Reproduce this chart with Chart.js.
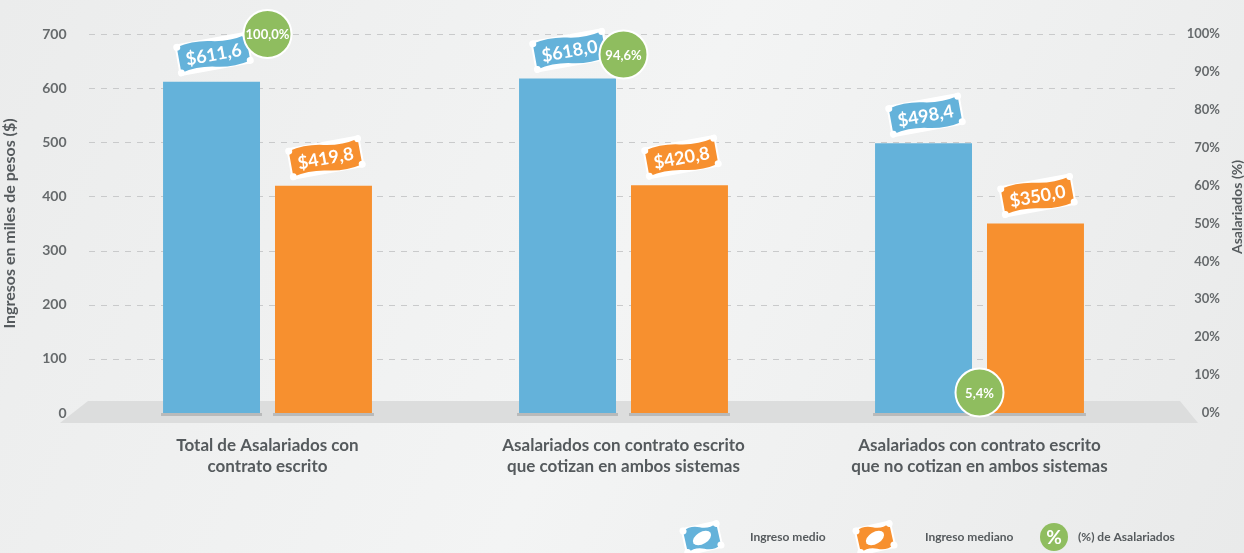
<!DOCTYPE html>
<html>
<head>
<meta charset="utf-8">
<script src="https://cdn.jsdelivr.net/npm/chart.js@4"></script>
<style>
  html, body { margin: 0; padding: 0; background: #eeefef; }
  #wrap { width: 1244px; height: 553px; position: relative; }
</style>
</head>
<body>
<div id="wrap"><canvas id="chart" width="1244" height="553"></canvas></div>
<script>
// ===== Data =====
const categories = [
  ['Total de Asalariados con', 'contrato escrito'],
  ['Asalariados con contrato escrito', 'que cotizan en ambos sistemas'],
  ['Asalariados con contrato escrito', 'que no cotizan en ambos sistemas']
];
const ingresoMedio = [611.6, 618.0, 498.4];
const ingresoMediano = [419.8, 420.8, 350.0];
const pctAsalariados = [100.0, 94.6, 5.4];
const seriesNames = ['Ingreso medio', 'Ingreso mediano', '(%) de Asalariados'];

const BLUE = '#64b2da';
const ORANGE = '#f7902f';
const GREEN = '#8fbd5f';
const TEXT = '#555a5d';

const fmt = v => v.toFixed(1).replace('.', ',');

// ===== Helpers =====
function banknote(ctx, cx, cy, w, h, color, angle) {
  ctx.save();
  ctx.translate(cx, cy);
  ctx.rotate(angle);
  // white backing
  ctx.fillStyle = '#ffffff';
  ctx.fillRect(-w / 2 - 2, -h / 2 - 3, w + 4, h + 6);
  ctx.beginPath();
  ctx.moveTo(-w / 2, -h / 2);
  ctx.quadraticCurveTo(-w / 4, -h / 2 - 4, 0, -h / 2);
  ctx.quadraticCurveTo(w / 4, -h / 2 + 4, w / 2, -h / 2);
  ctx.lineTo(w / 2, h / 2);
  ctx.quadraticCurveTo(w / 4, h / 2 + 4, 0, h / 2);
  ctx.quadraticCurveTo(-w / 4, h / 2 - 4, -w / 2, h / 2);
  ctx.closePath();
  ctx.fillStyle = color;
  ctx.fill();
  // notched corners
  ctx.fillStyle = '#ffffff';
  [[-1, -1], [1, -1], [-1, 1], [1, 1]].forEach(([sx, sy]) => {
    ctx.beginPath();
    ctx.arc(sx * w / 2, sy * h / 2, 3.5, 0, Math.PI * 2);
    ctx.fill();
  });
  ctx.restore();
}

// ===== Plugins =====
const decorations = {
  id: 'decorations',
  beforeDraw(chart) {
    const { ctx, width, height, scales } = chart;
    const g = ctx.createLinearGradient(0, 0, width, height);
    g.addColorStop(0, '#ebecec');
    g.addColorStop(0.5, '#f3f4f4');
    g.addColorStop(1, '#e9eaea');
    ctx.save();
    ctx.fillStyle = g;
    ctx.fillRect(0, 0, width, height);

    const y = scales.y;
    // dashed gridlines
    ctx.strokeStyle = '#c9cacb';
    ctx.lineWidth = 1;
    ctx.setLineDash([6, 6]);
    y.ticks.forEach(t => {
      const py = Math.round(y.getPixelForValue(t.value)) + 0.5;
      ctx.beginPath();
      ctx.moveTo(89, py);
      ctx.lineTo(1180, py);
      ctx.stroke();
    });
    ctx.setLineDash([]);
    // floor
    const base = y.getPixelForValue(0);
    ctx.fillStyle = '#dcdddd';
    ctx.beginPath();
    ctx.moveTo(88, base - 12);
    ctx.lineTo(1180, base - 12);
    ctx.lineTo(1198, base + 10);
    ctx.lineTo(60, base + 10);
    ctx.closePath();
    ctx.fill();
    ctx.restore();
  },
  beforeDatasetsDraw(chart) {
    const { ctx, scales } = chart;
    const base = scales.y.getPixelForValue(0);
    ctx.save();
    // shadow under bars
    ctx.fillStyle = '#b9baba';
    [0, 1].forEach(i => {
      chart.getDatasetMeta(i).data.forEach(bar => {
        ctx.fillRect(bar.x - bar.width / 2 - 2, base, bar.width + 4, 3);
      });
    });
    // money labels
    [[0, BLUE], [1, ORANGE]].forEach(([i, color]) => {
      const vals = chart.data.datasets[i].data;
      chart.getDatasetMeta(i).data.forEach((bar, j) => {
        const cx = bar.x + 2, cy = bar.y - 28;
        const angle = -0.18;
        banknote(ctx, cx, cy, 70, 26, color, angle);
        ctx.save();
        ctx.translate(cx, cy);
        ctx.rotate(angle);
        ctx.fillStyle = '#ffffff';
        ctx.font = 'bold 18px Lato';
        ctx.textAlign = 'center';
        ctx.textBaseline = 'middle';
        ctx.fillText('$' + fmt(vals[j]), 0, 1);
        ctx.restore();
      });
    });
    ctx.restore();
  },
  afterDatasetsDraw(chart) {
    const { ctx } = chart;
    const vals = chart.data.datasets[2].data;
    ctx.save();
    ctx.fillStyle = '#ffffff';
    ctx.font = 'bold 13px Lato';
    ctx.textAlign = 'center';
    ctx.textBaseline = 'middle';
    chart.getDatasetMeta(2).data.forEach((pt, j) => {
      ctx.fillText(fmt(vals[j]) + '%', pt.x, pt.y + 1);
    });
    // right axis title, reading bottom to top
    ctx.fillStyle = TEXT;
    ctx.font = 'bold 14px Lato';
    ctx.translate(1237, 207);
    ctx.rotate(-Math.PI / 2);
    ctx.fillText('Asalariados (%)', 0, 0);
    ctx.restore();
  },
  afterDraw(chart) {
    // legend
    const { ctx } = chart;
    const ly = 538;
    const items = [
      { x: 702, color: BLUE, text: seriesNames[0], tx: 750 },
      { x: 875, color: ORANGE, text: seriesNames[1], tx: 925 },
      { x: 1054, color: GREEN, text: seriesNames[2], tx: 1078, circle: true }
    ];
    ctx.save();
    items.forEach(it => {
      if (it.circle) {
        ctx.beginPath();
        ctx.arc(it.x, ly - 1, 14, 0, Math.PI * 2);
        ctx.fillStyle = it.color;
        ctx.fill();
        ctx.fillStyle = '#ffffff';
        ctx.font = 'bold 19px Lato';
        ctx.textAlign = 'center';
        ctx.textBaseline = 'middle';
        ctx.fillText('%', it.x, ly);
      } else {
        banknote(ctx, it.x, ly, 34, 22, it.color, -0.22);
        ctx.save();
        ctx.translate(it.x, ly);
        ctx.rotate(-0.55);
        ctx.beginPath();
        ctx.ellipse(0, 0, 10, 6, 0, 0, Math.PI * 2);
        ctx.fillStyle = '#ffffff';
        ctx.fill();
        ctx.restore();
      }
      ctx.fillStyle = TEXT;
      ctx.font = 'bold 12px Lato';
      ctx.textAlign = 'left';
      ctx.textBaseline = 'middle';
      ctx.fillText(it.text, it.tx, ly - 1);
    });
    ctx.restore();
  }
};

// ===== Chart =====
Chart.defaults.font.family = 'Lato, sans-serif';

new Chart(document.getElementById('chart'), {
  type: 'bar',
  data: {
    labels: categories,
    datasets: [
      {
        label: seriesNames[0],
        data: ingresoMedio,
        backgroundColor: BLUE,
        yAxisID: 'y',
        order: 1,
        barPercentage: 0.866,
        categoryPercentage: 0.629
      },
      {
        label: seriesNames[1],
        data: ingresoMediano,
        backgroundColor: ORANGE,
        yAxisID: 'y',
        order: 1,
        barPercentage: 0.866,
        categoryPercentage: 0.629
      },
      {
        type: 'line',
        label: seriesNames[2],
        data: pctAsalariados,
        yAxisID: 'y1',
        order: 0,
        clip: false,
        showLine: false,
        pointRadius: 24,
        pointHoverRadius: 24,
        pointBackgroundColor: GREEN,
        pointBorderColor: '#ffffff',
        pointBorderWidth: 2
      }
    ]
  },
  plugins: [decorations],
  options: {
    responsive: false,
    animation: false,
    layout: { padding: { top: 34, left: 0, right: 24, bottom: 0 } },
    plugins: {
      legend: { display: false },
      tooltip: { enabled: false }
    },
    scales: {
      x: {
        grid: { display: false },
        border: { display: false },
        ticks: {
          color: TEXT,
          font: { size: 17, weight: 'bold', lineHeight: 1.24 },
          padding: 14,
          maxRotation: 0
        },
        afterFit(scale) { scale.height = 140; }
      },
      y: {
        position: 'left',
        min: 0,
        max: 700,
        grid: { display: false },
        border: { display: false },
        ticks: {
          stepSize: 100,
          color: '#666a6c',
          font: { size: 14, weight: 'bold' },
          padding: 15
        },
        title: {
          display: true,
          text: 'Ingresos en miles de pesos ($)',
          color: TEXT,
          font: { size: 16, weight: 'bold' },
          padding: 0
        },
        afterFit(scale) { scale.width = 89.5; }
      },
      y1: {
        position: 'right',
        min: 0,
        max: 100,
        grid: { display: false },
        border: { display: false },
        ticks: {
          stepSize: 10,
          color: '#666a6c',
          font: { size: 13, weight: 'bold' },
          padding: 20,
          crossAlign: 'far',
          callback: v => v + '%'
        },
        afterFit(scale) { scale.width = 62.5; }
      }
    }
  }
});
</script>
</body>
</html>
